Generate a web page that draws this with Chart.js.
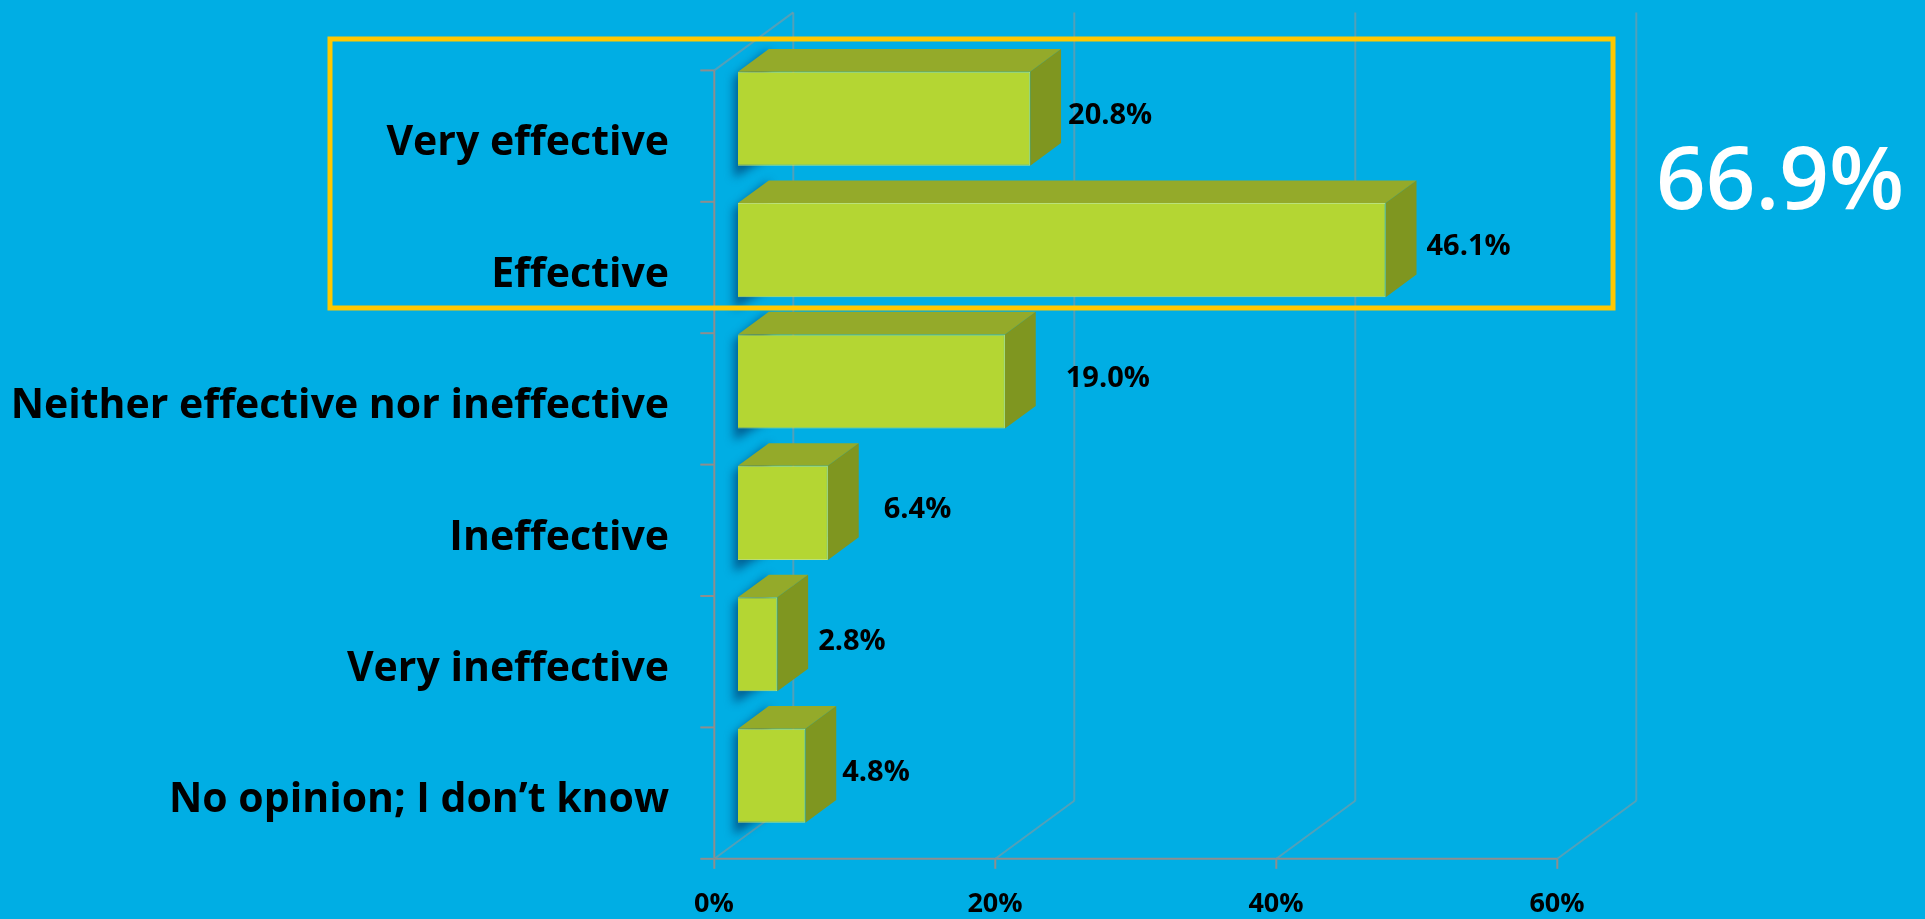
<!DOCTYPE html>
<html>
<head>
<meta charset="utf-8">
<title>Effectiveness</title>
<script src="https://cdn.jsdelivr.net/npm/chart.js@4.4.0/dist/chart.umd.min.js"></script>
<style>
  html, body { margin: 0; padding: 0; background: #00aee4; overflow: hidden; }
  #wrap { width: 1925px; height: 919px; }
</style>
</head>
<body>
<div id="wrap"><canvas id="effectChart" width="1925" height="919"></canvas></div>
<script>
const categories = [
  "Very effective",
  "Effective",
  "Neither effective nor ineffective",
  "Ineffective",
  "Very ineffective",
  "No opinion; I don\u2019t know"
];
const shares = [20.8, 46.1, 19.0, 6.4, 2.8, 4.8];
const xTicks = [0, 20, 40, 60];
const highlighted = [0, 1]; // rows summed in the big figure on the right

// 3D look: depth vector of the whole box, bars sit from 0.3 to 0.69 of it
const DEPTH_X = 79, DEPTH_Y = -58;
const BAR_FRONT = 0.3, BAR_DEPTH = 0.39;
const labelGap = [7, 10, 30, 25, 10, 6];

const FRONT = '#b4d633', TOP = '#94aa2a', SIDE = '#7f9620';
const FONT = '"Open Sans"';

function line(ctx, x1, y1, x2, y2) {
  ctx.beginPath();
  ctx.moveTo(x1, y1);
  ctx.lineTo(x2, y2);
  ctx.stroke();
}

const box3d = {
  id: 'box3d',
  beforeDatasetsDraw(chart) {
    const { ctx, scales: { x, y } } = chart;
    const fx = -BAR_FRONT * DEPTH_X, fy = -BAR_FRONT * DEPTH_Y;
    const bx = (1 - BAR_FRONT) * DEPTH_X, by = (1 - BAR_FRONT) * DEPTH_Y;
    const top = y.top, bottom = y.bottom;
    const x0 = x.getPixelForValue(0);
    ctx.save();

    // back wall gridlines and floor diagonals
    ctx.lineWidth = 2;
    ctx.strokeStyle = 'rgba(150,150,150,0.55)';
    xTicks.forEach(v => {
      const px = x.getPixelForValue(v);
      line(ctx, px + bx, top + by, px + bx, bottom + by);
      line(ctx, px + fx, bottom + fy, px + bx, bottom + by);
    });
    line(ctx, x0 + fx, top + fy, x0 + bx, top + by);

    // front axes with tick marks
    ctx.strokeStyle = '#8e8e8e';
    line(ctx, x0 + fx, top + fy, x0 + fx, bottom + fy);
    line(ctx, x0 + fx, bottom + fy, x.getPixelForValue(xTicks[xTicks.length - 1]) + fx, bottom + fy);
    const band = (bottom - top) / categories.length;
    for (let k = 0; k <= categories.length; k++) {
      const py = top + k * band + fy;
      line(ctx, x0 + fx - 14, py, x0 + fx, py);
    }
    xTicks.forEach(v => {
      const px = x.getPixelForValue(v) + fx;
      line(ctx, px, bottom + fy, px, bottom + fy + 10);
    });

    // soft shadow cast by each bar on the left wall
    const dx = BAR_DEPTH * DEPTH_X, dy = BAR_DEPTH * DEPTH_Y;
    ctx.filter = 'blur(5px)';
    ctx.fillStyle = 'rgba(0,60,110,0.7)';
    chart.getDatasetMeta(0).data.forEach(bar => {
      const { base, y: cy, height } = bar.getProps(['base', 'y', 'height'], true);
      const t = cy - height / 2, b = cy + height / 2;
      ctx.beginPath();
      ctx.moveTo(base - 4, t + 6);
      ctx.lineTo(base + dx, t + dy);
      ctx.lineTo(base + dx, b + dy + 14);
      ctx.lineTo(base - 4, b + 12);
      ctx.closePath();
      ctx.fill();
    });
    ctx.restore();
  },
  afterDatasetsDraw(chart) {
    const { ctx } = chart;
    const dx = BAR_DEPTH * DEPTH_X, dy = BAR_DEPTH * DEPTH_Y;
    ctx.save();
    chart.getDatasetMeta(0).data.forEach((bar, i) => {
      const { x, base, y, height } = bar.getProps(['x', 'base', 'y', 'height'], true);
      const t = y - height / 2, b = y + height / 2;
      // top face
      ctx.fillStyle = TOP;
      ctx.beginPath();
      ctx.moveTo(base, t);
      ctx.lineTo(x, t);
      ctx.lineTo(x + dx, t + dy);
      ctx.lineTo(base + dx, t + dy);
      ctx.closePath();
      ctx.fill();
      // right side face
      ctx.fillStyle = SIDE;
      ctx.beginPath();
      ctx.moveTo(x, t);
      ctx.lineTo(x + dx, t + dy);
      ctx.lineTo(x + dx, b + dy);
      ctx.lineTo(x, b);
      ctx.closePath();
      ctx.fill();

      // value label
      ctx.fillStyle = '#000';
      ctx.font = 'bold 29px ' + FONT;
      ctx.textAlign = 'left';
      ctx.textBaseline = 'middle';
      ctx.fillText(shares[i].toFixed(1) + '%', x + dx + labelGap[i], y - 3);
    });

    // frame round the effective answers
    ctx.strokeStyle = '#ffc800';
    ctx.lineWidth = 5;
    ctx.strokeRect(330, 39, 1283, 269);

    // combined share of the framed rows
    const total = highlighted.reduce((s, i) => s + shares[i], 0);
    ctx.fillStyle = '#fff';
    ctx.font = '600 87px ' + FONT;
    ctx.textAlign = 'center';
    ctx.textBaseline = 'alphabetic';
    ctx.fillText(total.toFixed(1) + '%', 1780, 209);
    ctx.restore();
  }
};

Chart.defaults.font.family = FONT;
Chart.defaults.color = '#000';

new Chart(document.getElementById('effectChart'), {
  type: 'bar',
  data: {
    labels: categories,
    datasets: [{
      data: shares,
      backgroundColor: FRONT,
      borderColor: 'rgba(205,232,110,0.9)',
      borderWidth: 1,
      barPercentage: 0.716,
      categoryPercentage: 1
    }]
  },
  options: {
    indexAxis: 'y',
    responsive: false,
    animation: false,
    layout: { padding: { top: 53, right: 344, left: 0, bottom: 0 } },
    plugins: {
      legend: { display: false },
      tooltip: { enabled: false }
    },
    scales: {
      x: {
        min: 0,
        max: 60,
        grid: { display: false, drawTicks: false },
        border: { display: false },
        afterBuildTicks: scale => { scale.ticks = xTicks.map(v => ({ value: v })); },
        afterFit: scale => {
          scale.height = 77.6;
          scale.paddingLeft = 0;
          scale.paddingRight = 0;
        },
        ticks: {
          padding: 47,
          labelOffset: -24,
          font: { size: 27, weight: 'bold' },
          callback: v => v + '%'
        }
      },
      y: {
        grid: { display: false, drawTicks: false },
        border: { display: false },
        afterFit: scale => {
          scale.width = 738;
          scale.paddingTop = 0;
          scale.paddingBottom = 0;
        },
        ticks: {
          padding: 69,
          labelOffset: 25,
          font: { size: 41, weight: 'bold' }
        }
      }
    }
  },
  plugins: [box3d]
});
</script>
</body>
</html>
